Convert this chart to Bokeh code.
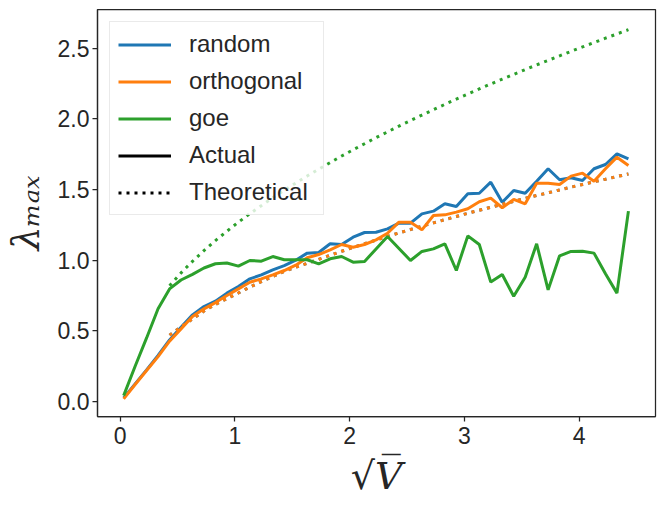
import math
from bokeh.plotting import figure
from bokeh.models import Range1d, FixedTicker, Legend, LegendItem, NumeralTickFormatter
from bokeh.embed import file_html
from bokeh.resources import INLINE

# ---------------- data ----------------
x_vals = [0.03, 0.13, 0.23, 0.33, 0.43, 0.53, 0.63, 0.73, 0.83, 0.93,
          1.03, 1.13, 1.23, 1.33, 1.43, 1.53, 1.63, 1.73, 1.83, 1.93,
          2.03, 2.13, 2.23, 2.33, 2.43, 2.53, 2.63, 2.73, 2.83, 2.93,
          3.03, 3.13, 3.23, 3.33, 3.43, 3.53, 3.63, 3.73, 3.83, 3.93,
          4.03, 4.13, 4.23, 4.33, 4.43]

random_actual = [0.026, 0.125, 0.224, 0.326, 0.436, 0.526, 0.613, 0.672, 0.710, 0.767,
                 0.814, 0.868, 0.896, 0.932, 0.962, 1.000, 1.050, 1.055, 1.116, 1.111,
                 1.163, 1.196, 1.198, 1.222, 1.262, 1.262, 1.328, 1.347, 1.399, 1.380,
                 1.470, 1.474, 1.552, 1.410, 1.493, 1.474, 1.559, 1.647, 1.569, 1.583,
                 1.564, 1.647, 1.677, 1.753, 1.717]

orthogonal_actual = [0.019, 0.120, 0.219, 0.318, 0.427, 0.514, 0.601, 0.656, 0.700, 0.750,
                     0.797, 0.844, 0.868, 0.896, 0.927, 0.965, 1.017, 1.040, 1.073, 1.111,
                     1.092, 1.111, 1.144, 1.191, 1.269, 1.269, 1.215, 1.316, 1.321, 1.340,
                     1.364, 1.414, 1.439, 1.371, 1.430, 1.399, 1.545, 1.545, 1.536, 1.595,
                     1.616, 1.559, 1.647, 1.729, 1.670]

goe_actual = [0.042, 0.250, 0.450, 0.656, 0.797, 0.860, 0.900, 0.945, 0.975, 0.980,
              0.958, 0.998, 0.993, 1.026, 1.003, 1.003, 1.003, 0.974, 1.010, 1.026,
              0.986, 0.991, 1.080, 1.168, 1.083, 0.998, 1.062, 1.080, 1.116, 0.927,
              1.172, 1.111, 0.845, 0.899, 0.745, 0.880, 1.116, 0.790, 1.031, 1.062,
              1.064, 1.050, 0.904, 0.767, 1.347]

x_theory = [0.43, 0.53, 0.63, 0.73, 0.83, 0.93,
            1.03, 1.13, 1.23, 1.33, 1.43, 1.53, 1.63, 1.73, 1.83, 1.93,
            2.03, 2.13, 2.23, 2.33, 2.43, 2.53, 2.63, 2.73, 2.83, 2.93,
            3.03, 3.13, 3.23, 3.33, 3.43, 3.53, 3.63, 3.73, 3.83, 3.93,
            4.03, 4.13, 4.23, 4.33, 4.43]

rand_orth_theory = [0.470, 0.528, 0.584, 0.640, 0.687, 0.728, 0.768, 0.809, 0.848, 0.885,
                    0.920, 0.950, 0.978, 1.006, 1.035, 1.063, 1.090, 1.117, 1.142, 1.168,
                    1.193, 1.217, 1.241, 1.264, 1.287, 1.309, 1.332, 1.353, 1.375, 1.396,
                    1.417, 1.437, 1.458, 1.477, 1.497, 1.517, 1.536, 1.555, 1.573, 1.592,
                    1.610]

goe_theory = [0.820, 0.910, 0.992, 1.068, 1.139, 1.205, 1.269, 1.329, 1.386, 1.442,
              1.495, 1.546, 1.596, 1.644, 1.691, 1.737, 1.781, 1.824, 1.867, 1.908,
              1.949, 1.988, 2.027, 2.065, 2.103, 2.140, 2.176, 2.212, 2.247, 2.281,
              2.315, 2.349, 2.382, 2.414, 2.446, 2.478, 2.509, 2.540, 2.571, 2.601,
              2.631]

x_ticks = [0, 1, 2, 3, 4]
y_ticks = [0.0, 0.5, 1.0, 1.5, 2.0, 2.5]
series_labels = ["random", "orthogonal", "goe"]
style_labels = ["Actual", "Theoretical"]
x_label = "√V\u0305"
y_label = "λ\u2098\u2090\u2093"

# ---------------- styling ----------------
BLUE, ORANGE, GREEN = "#1f77b4", "#ff7f0e", "#2ca02c"
INK = "#262626"
LW = 3
DOT = "3 5"
NAN = float("nan")

p = figure(width=662, height=507, output_backend="svg", toolbar_location=None,
           x_range=Range1d(-0.198, 4.666), y_range=Range1d(-0.106, 2.774))
p.min_border_left = 97
p.min_border_right = 7
p.min_border_top = 9
p.min_border_bottom = 91
p.background_fill_color = "white"
p.border_fill_color = "white"
p.xgrid.visible = False
p.ygrid.visible = False
p.outline_line_color = INK
p.outline_line_width = 1.25
p.outline_line_alpha = 1.0

p.xaxis.ticker = FixedTicker(ticks=x_ticks)
p.yaxis.ticker = FixedTicker(ticks=y_ticks)
p.yaxis.formatter = NumeralTickFormatter(format="0.0")
for ax in (p.xaxis, p.yaxis):
    ax.axis_line_color = INK
    ax.axis_line_width = 1.25
    ax.major_tick_line_color = INK
    ax.major_tick_line_width = 1.25
    ax.major_tick_in = 0
    ax.major_tick_out = 5
    ax.minor_tick_line_color = None
    ax.major_label_text_font = "Liberation Sans"
    ax.major_label_text_font_size = "23px"
    ax.major_label_text_color = INK
    ax.axis_label_text_font = "DejaVu Serif"
    ax.axis_label_text_font_style = "italic"
    ax.axis_label_text_color = INK
p.xaxis.major_label_standoff = 5
p.yaxis.major_label_standoff = 3

p.xaxis.axis_label = x_label
p.xaxis.axis_label_text_font_size = "38px"
p.xaxis.axis_label_standoff = 7
p.yaxis.axis_label = y_label
p.yaxis.axis_label_text_font_size = "38px"
p.yaxis.axis_label_standoff = 7

# ---------------- lines ----------------
r_rand = p.line(x_vals, random_actual, line_color=BLUE, line_width=LW)
p.line(x_theory, rand_orth_theory, line_color=BLUE, line_width=LW, line_dash=DOT)
r_orth = p.line(x_vals, orthogonal_actual, line_color=ORANGE, line_width=LW)
p.line(x_theory, rand_orth_theory, line_color=ORANGE, line_width=LW, line_dash=DOT)
r_goe = p.line(x_vals, goe_actual, line_color=GREEN, line_width=LW)
p.line(x_theory, goe_theory, line_color=GREEN, line_width=LW, line_dash=DOT)

# legend-only entries (no visible data)
r_act = p.line(x=[NAN], y=[NAN], line_color="black", line_width=LW)
r_theo = p.line(x=[NAN], y=[NAN], line_color="black", line_width=LW, line_dash=DOT)

legend = Legend(
    items=[LegendItem(label=series_labels[0], renderers=[r_rand]),
           LegendItem(label=series_labels[1], renderers=[r_orth]),
           LegendItem(label=series_labels[2], renderers=[r_goe]),
           LegendItem(label=style_labels[0], renderers=[r_act]),
           LegendItem(label=style_labels[1], renderers=[r_theo])],
    location="top_left", margin=12, padding=8, spacing=9,
    glyph_width=53, glyph_height=27, label_height=27, label_width=126,
    label_standoff=18,
    label_text_font="Liberation Sans", label_text_font_size="24px",
    label_text_color=INK, border_line_color="#d6d6d6", border_line_width=1,
    background_fill_color="white", background_fill_alpha=0.8,
)
p.add_layout(legend)

open("out.html", "w").write(file_html(p, INLINE))
